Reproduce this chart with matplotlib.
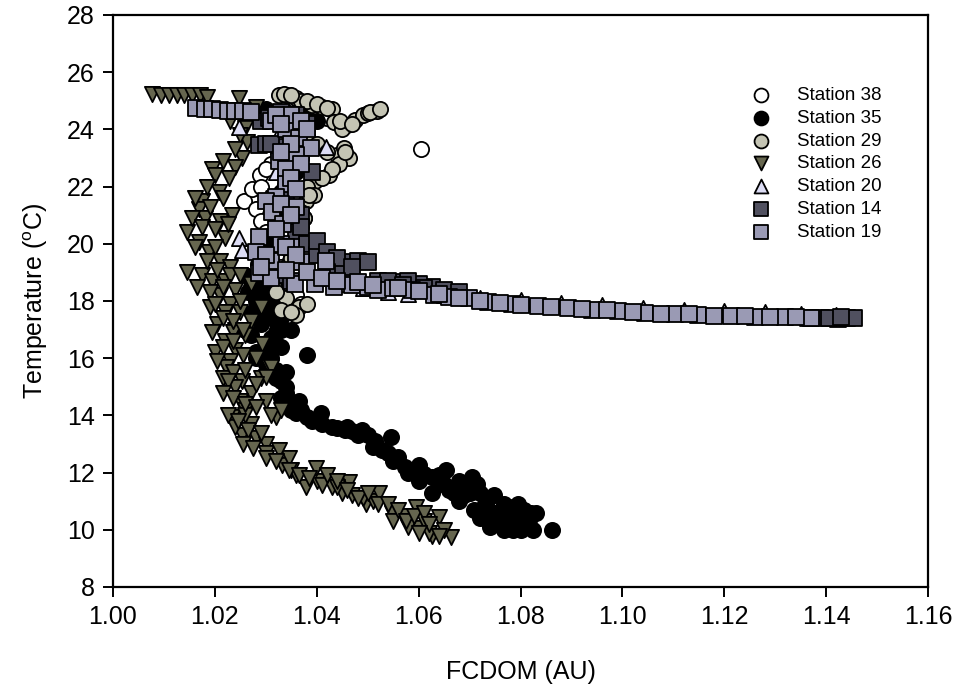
import matplotlib
matplotlib.use("Agg")
import matplotlib.pyplot as plt

plt.rcParams['font.family'] = ['Liberation Sans', 'DejaVu Sans']
plt.rcParams['mathtext.fontset'] = 'custom'
plt.rcParams['mathtext.rm'] = 'Liberation Sans'
plt.rcParams['mathtext.it'] = 'Liberation Sans'

# FCDOM (AU) and temperature (deg C) profiles per station
st38_fcdom = [1.0605, 1.0288, 1.0258, 1.0273, 1.0330, 1.0340, 1.0360, 1.0380, 1.0400,
              1.0420, 1.0370, 1.0350, 1.0330, 1.0310, 1.0300, 1.0290, 1.0280, 1.0290,
              1.0300, 1.0310, 1.0320, 1.0330, 1.0340, 1.0350, 1.0360, 1.0370]
st38_temp = [23.3, 22.4, 21.5, 21.9, 25.2, 25.1, 25.0, 24.9, 24.6,
             24.4, 24.2, 23.8, 23.3, 22.8, 22.6, 22.0, 21.2, 20.8,
             20.4, 20.0, 19.6, 19.2, 18.8, 18.5, 18.2, 17.9]

st35_fcdom = [1.0300, 1.0320, 1.0340, 1.0360, 1.0380, 1.0400, 1.0350, 1.0360, 1.0370,
              1.0360, 1.0350, 1.0340, 1.0330, 1.0320, 1.0310, 1.0300, 1.0290, 1.0280,
              1.0290, 1.0300, 1.0310, 1.0320, 1.0330, 1.0310, 1.0300, 1.0310, 1.0320,
              1.0330, 1.0340, 1.0350, 1.0360, 1.0380, 1.0350, 1.0340, 1.0365, 1.0380,
              1.0408, 1.0430, 1.0456, 1.0470, 1.0488, 1.0500, 1.0515, 1.0545, 1.0528,
              1.0560, 1.0573, 1.0600, 1.0626, 1.0653, 1.0626, 1.0680, 1.0680, 1.0705,
              1.0708, 1.0714, 1.0747, 1.0767, 1.0776, 1.0786, 1.0796, 1.0806, 1.0816,
              1.0825, 1.0861, 1.0767, 1.0747, 1.0730, 1.0790, 1.0810, 1.0770, 1.0735,
              1.0640, 1.0660, 1.0700, 1.0720, 1.0760, 1.0800, 1.0830, 1.0755, 1.0785,
              1.0270, 1.0280, 1.0300, 1.0290, 1.0270, 1.0280, 1.0300, 1.0320, 1.0290,
              1.0290, 1.0330, 1.0370, 1.0345, 1.0355, 1.0340, 1.0350, 1.0330, 1.0340,
              1.0320, 1.0310, 1.0300, 1.0310, 1.0290, 1.0310, 1.0280, 1.0300, 1.0320,
              1.0330, 1.0320, 1.0330, 1.0300, 1.0320, 1.0340, 1.0330, 1.0350, 1.0370,
              1.0390, 1.0410, 1.0440, 1.0460, 1.0480, 1.0510, 1.0540, 1.0550, 1.0580,
              1.0600, 1.0610, 1.0640, 1.0650, 1.0670, 1.0690, 1.0700, 1.0720, 1.0730,
              1.0750, 1.0760, 1.0780, 1.0790, 1.0800, 1.0810, 1.0820, 1.0740, 1.0770,
              1.0260, 1.0265, 1.0275, 1.0285, 1.0260, 1.0280]
st35_temp = [24.7, 24.5, 24.3, 24.6, 24.4, 24.3, 24.0, 23.5, 23.0,
             22.5, 22.0, 21.5, 21.0, 20.5, 20.0, 19.6, 19.2, 18.8,
             18.4, 18.0, 17.6, 17.3, 17.0, 16.7, 16.4, 16.0, 15.6,
             15.2, 14.8, 14.4, 14.1, 16.1, 17.0, 15.5, 14.5, 13.95,
             14.08, 13.6, 13.5, 13.45, 13.5, 13.3, 13.1, 13.25, 12.8,
             12.55, 12.2, 12.27, 11.85, 12.1, 11.3, 11.7, 11.0, 11.85,
             10.7, 11.6, 11.2, 10.9, 10.35, 10.0, 10.9, 10.7, 10.35,
             10.0, 10.0, 10.0, 10.35, 10.6, 10.6, 10.1, 10.7, 11.0,
             11.6, 11.4, 11.3, 10.4, 10.2, 10.25, 10.6, 10.45, 10.8,
             18.5, 18.0, 17.8, 17.2, 16.8, 16.2, 15.8, 16.5, 19.0,
             24.5, 24.6, 24.7, 23.8, 23.3, 22.8, 22.3, 21.8, 21.3,
             20.8, 20.3, 19.9, 19.4, 18.7, 18.3, 18.2, 17.5, 17.9,
             17.4, 16.9, 16.4, 15.9, 15.3, 15.0, 14.6, 14.2, 14.2,
             13.8, 13.7, 13.55, 13.6, 13.3, 12.9, 12.7, 12.4, 12.0,
             11.7, 11.95, 11.9, 11.6, 11.3, 11.2, 11.5, 11.3, 10.9,
             10.6, 10.3, 10.5, 10.2, 10.0, 10.4, 10.6, 10.1, 10.1,
             18.9, 18.3, 17.6, 19.3, 17.0, 16.0]

st29_fcdom = [1.0326, 1.0340, 1.0359, 1.0370, 1.0390, 1.0410, 1.0430, 1.0433, 1.0459,
              1.0476, 1.0490, 1.0500, 1.0518, 1.0440, 1.0463, 1.0443, 1.0424, 1.0397,
              1.0378, 1.0378, 1.0370, 1.0370, 1.0360, 1.0350, 1.0340, 1.0345, 1.0340,
              1.0365, 1.0380, 1.0359, 1.0330, 1.0320, 1.0380, 1.0400, 1.0420, 1.0453,
              1.0450, 1.0380, 1.0395, 1.0375, 1.0335, 1.0350, 1.0380, 1.0400, 1.0420,
              1.0445, 1.0470, 1.0505, 1.0525, 1.0455, 1.0430, 1.0410, 1.0385, 1.0375,
              1.0365, 1.0350, 1.0340, 1.0350]
st29_temp = [25.2, 25.2, 25.1, 25.0, 24.85, 24.8, 24.7, 24.26, 24.15,
             24.33, 24.5, 24.57, 24.65, 23.1, 23.0, 22.8, 22.4, 22.2,
             21.9, 21.5, 21.1, 20.6, 20.2, 19.8, 19.2, 18.6, 18.1,
             17.8, 17.9, 17.5, 17.7, 18.3, 23.8, 23.5, 23.2, 23.35,
             24.0, 22.0, 21.7, 20.9, 25.25, 25.2, 25.0, 24.9, 24.75,
             24.3, 24.2, 24.6, 24.7, 23.2, 22.6, 22.3, 21.7, 20.9,
             20.4, 19.5, 18.8, 17.6]

st26_fcdom = [1.0077, 1.0095, 1.0110, 1.0125, 1.0140, 1.0155, 1.0170, 1.0185, 1.0247,
              1.0280, 1.0260, 1.0263, 1.0253, 1.0240, 1.0194, 1.0227, 1.0208, 1.0175,
              1.0169, 1.0233, 1.0146, 1.0169, 1.0188, 1.0146, 1.0175, 1.0194, 1.0210,
              1.0180, 1.0220, 1.0200, 1.0210, 1.0230, 1.0220, 1.0240, 1.0210, 1.0230,
              1.0204, 1.0220, 1.0240, 1.0250, 1.0220, 1.0240, 1.0230, 1.0221, 1.0253,
              1.0240, 1.0270, 1.0250, 1.0260, 1.0233, 1.0253, 1.0240, 1.0270, 1.0280,
              1.0300, 1.0300, 1.0331, 1.0350, 1.0378, 1.0400, 1.0430, 1.0450, 1.0470,
              1.0496, 1.0510, 1.0547, 1.0570, 1.0600, 1.0626, 1.0663, 1.0640, 1.0594,
              1.0522, 1.0463, 1.0398, 1.0345, 1.0325, 1.0320, 1.0306, 1.0292, 1.0270,
              1.0280, 1.0290, 1.0300, 1.0310, 1.0330, 1.0310, 1.0300, 1.0260, 1.0250,
              1.0270, 1.0290, 1.0550, 1.0580, 1.0610, 1.0620, 1.0490, 1.0440, 1.0360,
              1.0200, 1.0215, 1.0190, 1.0235, 1.0260,
              1.0230, 1.0250, 1.0240, 1.0215, 1.0200, 1.0185, 1.0160, 1.0190, 1.0215,
              1.0155, 1.0175, 1.0200, 1.0225, 1.0160, 1.0185, 1.0205, 1.0230, 1.0250,
              1.0165, 1.0190, 1.0215, 1.0200, 1.0215, 1.0235, 1.0255, 1.0195, 1.0215,
              1.0235, 1.0255, 1.0205, 1.0235, 1.0260, 1.0280, 1.0225, 1.0215, 1.0235,
              1.0260, 1.0280, 1.0225, 1.0245, 1.0265, 1.0290, 1.0255, 1.0275, 1.0300,
              1.0320, 1.0345, 1.0365, 1.0385, 1.0410, 1.0420, 1.0440, 1.0460, 1.0480,
              1.0500, 1.0520, 1.0540, 1.0560, 1.0575, 1.0590, 1.0610, 1.0620, 1.0650,
              1.0600, 1.0640]
st26_temp = [25.25, 25.2, 25.2, 25.2, 25.2, 25.2, 25.2, 25.15, 25.1,
             24.8, 24.05, 23.56, 23.0, 22.7, 22.6, 22.3, 21.8, 21.5,
             21.2, 21.0, 20.4, 20.06, 19.7, 19.0, 18.9, 18.7, 20.8,
             20.9, 20.2, 19.9, 19.4, 19.2, 18.7, 18.4, 18.2, 17.9,
             17.2, 17.6, 17.0, 17.6, 16.6, 16.3, 15.9, 15.7, 15.2,
             15.0, 14.8, 14.5, 14.2, 13.95, 13.3, 13.6, 13.7, 13.2,
             13.0, 12.7, 12.27, 12.1, 11.5, 11.7, 11.5, 11.3, 11.2,
             10.9, 11.0, 10.6, 10.5, 10.05, 9.8, 9.75, 10.45, 10.8,
             11.3, 11.67, 12.16, 12.5, 12.8, 13.95, 15.7, 16.5, 17.3,
             16.0, 15.3, 14.5, 14.0, 14.2, 15.7, 15.35, 16.8, 18.0,
             18.6, 17.8, 10.3, 10.1, 10.3, 9.9, 11.1, 11.5, 11.9,
             16.2, 15.3, 17.8, 16.9, 14.0,
             24.3, 23.8, 23.3, 22.9, 22.4, 22.0, 21.6, 21.3, 21.6,
             20.9, 20.6, 20.5, 20.7, 19.9, 19.4, 19.1, 18.9, 18.9,
             18.5, 18.3, 18.5, 17.9, 17.4, 17.3, 17.0, 16.9, 16.4,
             16.6, 16.1, 15.9, 15.5, 15.6, 15.1, 15.2, 14.8, 14.6,
             14.4, 14.3, 14.0, 13.8, 13.5, 13.4, 13.0, 12.85, 12.5,
             12.4, 12.1, 11.9, 11.8, 11.55, 11.9, 11.7, 11.4, 11.1,
             11.3, 10.9, 10.9, 10.7, 10.3, 10.5, 10.6, 10.2, 10.0,
             9.9, 9.8]

st20_fcdom = [1.0247, 1.0300, 1.0330, 1.0418, 1.0247, 1.0253, 1.0285, 1.0400, 1.0450,
              1.0490, 1.0540, 1.0580, 1.0650, 1.0720, 1.0800, 1.0880, 1.0960, 1.1040,
              1.1120, 1.1200, 1.1280, 1.1350, 1.1420, 1.0300, 1.0320]
st20_temp = [24.1, 24.4, 24.0, 23.4, 20.2, 19.8, 19.5, 18.8, 18.6,
             18.45, 18.3, 18.25, 18.2, 18.1, 18.02, 17.93, 17.85, 17.77,
             17.7, 17.65, 17.6, 17.55, 17.5, 21.6, 22.5]

st14_fcdom = [1.0286, 1.0325, 1.0300, 1.0340, 1.0360, 1.0380, 1.0290, 1.0306, 1.0350,
              1.0370, 1.0360, 1.0380, 1.0400, 1.0430, 1.0457, 1.0480, 1.0500, 1.0450,
              1.0520, 1.0560, 1.0626, 1.0600, 1.0580, 1.0650, 1.0680, 1.1365, 1.1424,
              1.1440, 1.1390, 1.1455, 1.0320, 1.0350,
              1.0330, 1.0310, 1.0360, 1.0390, 1.0340, 1.0370, 1.0400, 1.0420, 1.0440,
              1.0470, 1.0420, 1.0540, 1.0570, 1.0610, 1.1405, 1.1430]
st14_temp = [23.45, 23.4, 23.5, 24.4, 24.5, 24.2, 24.3, 24.4, 22.0,
             21.0, 20.4, 20.0, 19.6, 19.3, 19.36, 19.4, 19.35, 19.0,
             18.7, 18.66, 18.5, 18.6, 18.7, 18.4, 18.3, 17.4, 17.37,
             17.42, 17.42, 17.4, 18.9, 18.7,
             24.6, 23.5, 23.6, 22.5, 21.8, 20.6, 20.1, 19.7, 19.5,
             19.2, 19.0, 18.7, 18.55, 18.45, 17.4, 17.45]

st19_fcdom = [1.0162, 1.0180, 1.0195, 1.0210, 1.0225, 1.0240, 1.0255, 1.0270, 1.0310,
              1.0340, 1.0350, 1.0365, 1.0388, 1.0360, 1.0325, 1.0340, 1.0340, 1.0320,
              1.0300, 1.0313, 1.0333, 1.0286, 1.0280, 1.0310, 1.0287, 1.0310, 1.0358,
              1.0396, 1.0433, 1.0370, 1.0418, 1.0470, 1.0500, 1.0520, 1.0550, 1.0587,
              1.0630, 1.0660, 1.0698, 1.0737, 1.0783, 1.0835, 1.0894, 1.0940, 1.0992,
              1.1045, 1.1104, 1.1149, 1.1214, 1.1260, 1.1320, 1.1370, 1.0760, 1.0860,
              1.0970, 1.1075, 1.1180, 1.1290, 1.0360, 1.0330, 1.0350,
              1.0320, 1.0330, 1.0370, 1.0380, 1.0350, 1.0330, 1.0370, 1.0350, 1.0360,
              1.0330, 1.0350, 1.0320, 1.0340, 1.0360, 1.0300, 1.0290, 1.0340, 1.0380,
              1.0410, 1.0440, 1.0480, 1.0510, 1.0560, 1.0600, 1.0640, 1.0680, 1.0720,
              1.0800, 1.0920, 1.1020, 1.1130, 1.1240, 1.1340]
st19_temp = [24.75, 24.72, 24.7, 24.68, 24.66, 24.65, 24.63, 24.6, 24.3,
             24.0, 24.5, 23.7, 23.35, 23.1, 22.9, 22.6, 22.1, 21.65,
             21.5, 21.1, 20.7, 20.25, 19.7, 19.4, 18.97, 18.8, 18.6,
             18.6, 18.5, 19.36, 19.4, 18.55, 18.5, 18.4, 18.45, 18.4,
             18.2, 18.15, 18.1, 17.97, 17.9, 17.83, 17.75, 17.7, 17.64,
             17.58, 17.54, 17.51, 17.47, 17.44, 17.44, 17.4, 17.93, 17.8,
             17.67, 17.56, 17.49, 17.44, 21.3, 20.0, 19.9,
             24.5, 24.2, 24.3, 24.0, 23.5, 23.2, 22.8, 22.3, 21.9,
             21.4, 21.0, 20.5, 19.9, 19.6, 19.6, 19.2, 19.1, 19.0,
             18.8, 18.7, 18.65, 18.55, 18.45, 18.35, 18.25, 18.1, 18.0,
             17.87, 17.72, 17.61, 17.53, 17.46, 17.43]

stations = ["Station 38", "Station 35", "Station 29", "Station 26",
            "Station 20", "Station 14", "Station 19"]
fcdom = [st38_fcdom, st35_fcdom, st29_fcdom, st26_fcdom, st20_fcdom, st14_fcdom, st19_fcdom]
temp = [st38_temp, st35_temp, st29_temp, st26_temp, st20_temp, st14_temp, st19_temp]
markers = ["o", "o", "o", "v", "^", "s", "s"]
colors = ["#FFFFFF", "#000000", "#C4C4B4", "#66664F", "#DCDCF4", "#50505F", "#9A9AB4"]

x_ticks = [1.00, 1.02, 1.04, 1.06, 1.08, 1.10, 1.12, 1.14, 1.16]
y_ticks = [8, 10, 12, 14, 16, 18, 20, 22, 24, 26, 28]

fig = plt.figure(figsize=(9.6, 6.98), dpi=100)
ax = fig.add_axes([113 / 960, 1 - 587 / 698, (928 - 113) / 960, (587 - 15) / 698])

for name, xs, ys, m, c in zip(stations, fcdom, temp, markers, colors):
    ax.scatter(xs, ys, s=120, marker=m, facecolor=c, edgecolor="black",
               linewidths=1.3, label=name, zorder=3)

ax.set_xlim(1.00, 1.16)
ax.set_ylim(8, 28)
ax.set_xticks(x_ticks)
ax.set_xticklabels([f"{v:.2f}" for v in x_ticks])
ax.set_yticks(y_ticks)
ax.tick_params(direction="out", length=7, width=1.4, labelsize=18, pad=6,
               top=False, right=False)
for sp in ax.spines.values():
    sp.set_linewidth(1.6)

ax.set_xlabel("FCDOM (AU)", fontsize=18, labelpad=22)
ax.set_ylabel(r"Temperature ($^{\mathrm{o}}$C)", fontsize=18, labelpad=12)

leg = ax.legend(loc="upper left", bbox_to_anchor=(752 / 960, 1 - 87 / 698),
                bbox_transform=fig.transFigure, frameon=False, fontsize=13.5,
                handlelength=1.0, handletextpad=1.4, labelspacing=0.3,
                borderpad=0, borderaxespad=0, scatterpoints=1)
for h in leg.legend_handles:
    h.set_sizes([100])

fig.savefig("out.png", dpi=100)
